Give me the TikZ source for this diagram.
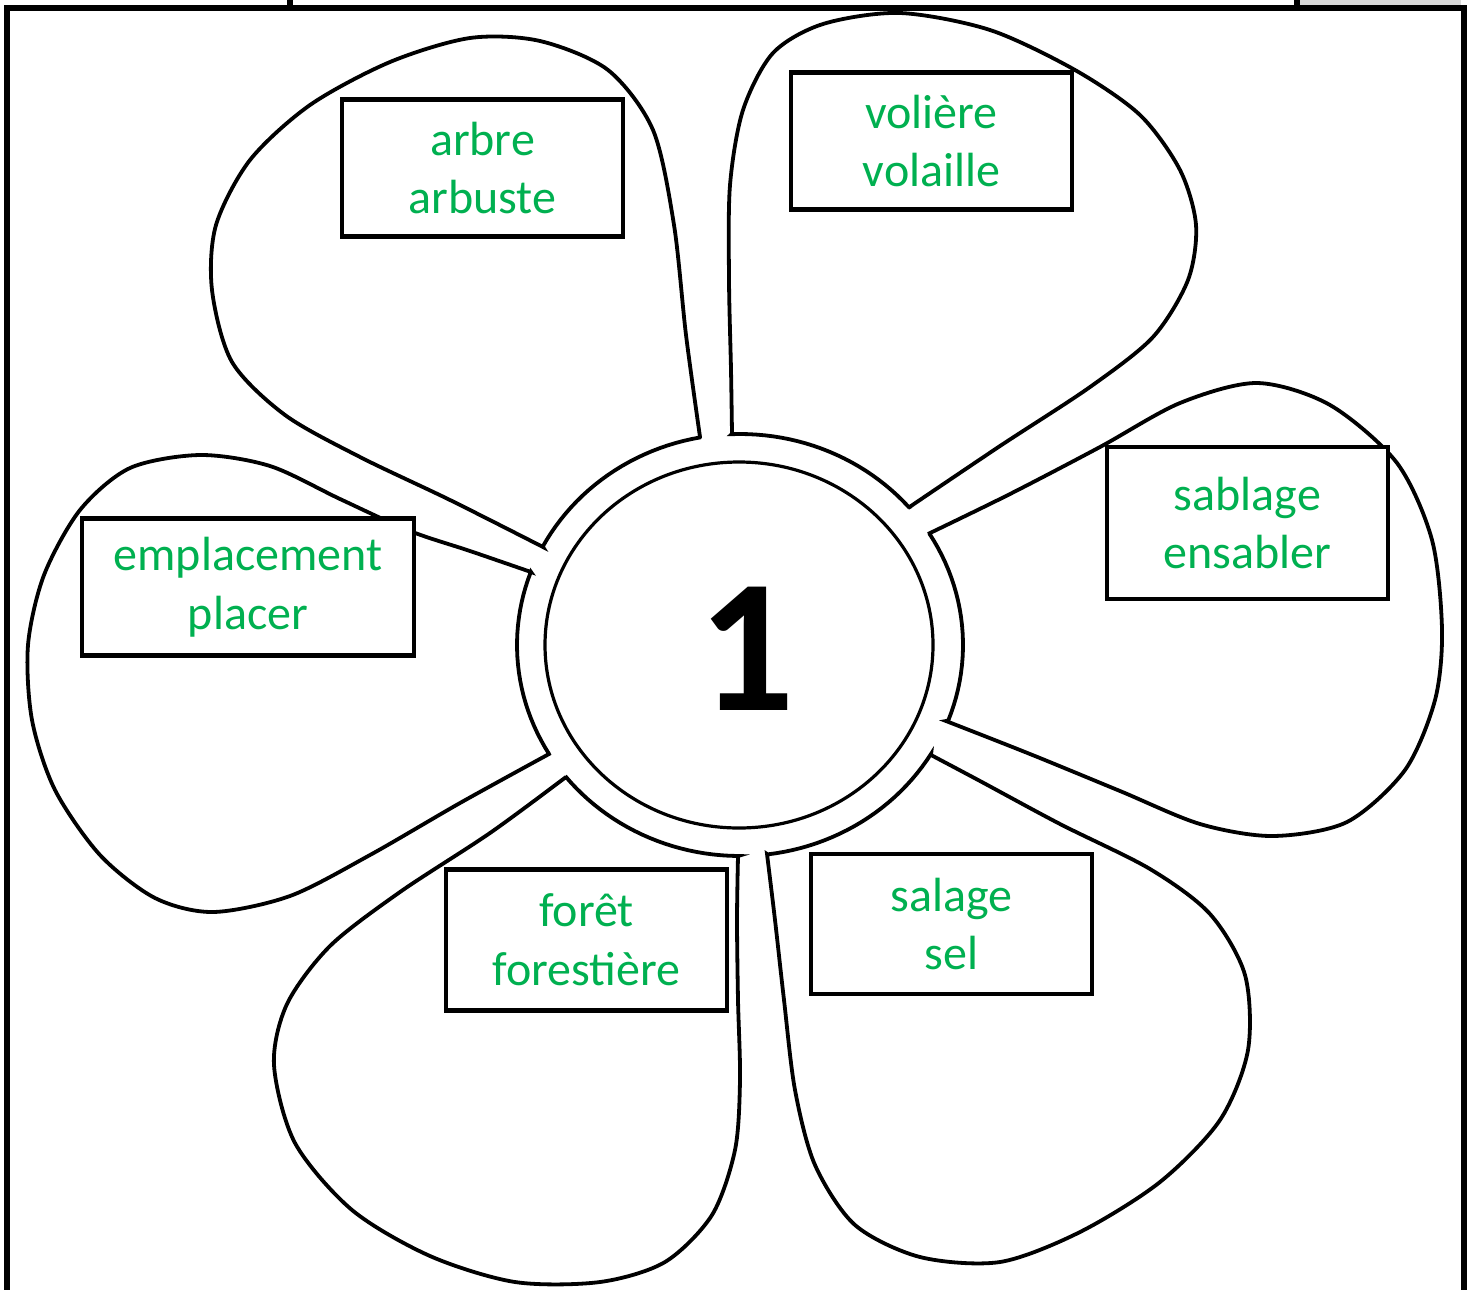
\documentclass[tikz,border=0pt]{standalone}
\usepackage{fontspec}
\setmainfont{Carlito}
\definecolor{lblgreen}{HTML}{00B050}
\definecolor{tabgrey}{HTML}{D9D9D9}
\begin{document}
\begin{tikzpicture}[x=0.5pt,y=-0.5pt,
  petal/.style={line width=1.9pt},
  wordbox/.style={draw, line width=2.2pt, fill=white, text=lblgreen, align=center,
    font=\fontsize{24}{29.3}\selectfont, inner sep=0pt, minimum width=140.5pt, minimum height=68.5pt},
  framerule/.style={line width=3pt}]
\useasboundingbox (0,0) rectangle (1470,1290);
% arbre petal
\draw[petal] plot[domain=207.8:259.6, samples=25, variable=\t] ({740+223*cos(\t)},{645+211*sin(\t)})
  -- plot[smooth] coordinates {(700,437) (686,335) (674,225) (653,130) (608,70) (540,41) (470,38) (390,62) (310,105) (250,160) (216,225) (212,290) (232,362) (285,415) (360,457) (450,500) (543,547)} -- cycle;
% voliere petal
\draw[petal] plot[domain=267.9:319.3, samples=25, variable=\t] ({740+223*cos(\t)},{645+211*sin(\t)})
  -- plot[smooth] coordinates {(908,508) (1000,446) (1090,387) (1153,337) (1188,280) (1196,225) (1180,170) (1140,115) (1075,70) (990,30) (900,13) (823,24) (773,53) (743,110) (730,185) (729,280) (731,370) (732,434)} -- cycle;
% sablage petal
\draw[petal] plot[domain=328.1:381.0, samples=25, variable=\t] ({740+223*cos(\t)},{645+211*sin(\t)})
  -- plot[smooth] coordinates {(946,721) (1030,754) (1120,791) (1200,824) (1273,836) (1347,822) (1405,770) (1435,700) (1442,630) (1432,540) (1397,463) (1330,405) (1257,383) (1180,403) (1100,447) (1010,494) (928,534)} -- cycle;
% salage petal
\draw[petal] plot[domain=31:82.9, samples=25, variable=\t] ({740+223*cos(\t)},{645+211*sin(\t)})
  -- plot[smooth] coordinates {(767,854) (775,920) (784,1000) (795,1090) (815,1165) (855,1225) (920,1257) (1000,1262) (1080,1232) (1160,1182) (1220,1120) (1248,1050) (1245,975) (1210,914) (1150,869) (1060,824) (980,781) (931,755)} -- cycle;
% foret petal
\draw[petal] plot[domain=90.5:141.6, samples=25, variable=\t] ({740+223*cos(\t)},{645+211*sin(\t)})
  -- plot[smooth] coordinates {(566,777) (490,833) (400,892) (330,946) (287,1004) (274,1065) (295,1143) (352,1210) (430,1256) (515,1282) (600,1282) (665,1262) (712,1215) (735,1150) (740,1080) (738,1000) (737,920) (738,856)} -- cycle;
% emplacement petal
\draw[petal] plot[domain=149:200.3, samples=25, variable=\t] ({740+223*cos(\t)},{645+211*sin(\t)})
  -- plot[smooth] coordinates {(531,572) (470,551) (410,531) (340,499) (270,466) (200,455) (130,468) (80,510) (44,575) (28,645) (32,720) (55,790) (100,855) (155,898) (213,912) (290,896) (370,855) (460,803) (549,754)} -- cycle;
% centre
\draw[petal, line width=1.6pt] (739,645) ellipse [x radius=194, y radius=183];
\node[font=\fontsize{95}{95}\bfseries\selectfont, anchor=base, inner sep=0pt] (num) at (747,710) {1};
% word boxes
\node[wordbox] (arbre) at (482.5,168) {arbre\\arbuste};
\node[wordbox] (voliere) at (931.5,141) {volière\\volaille};
\node[wordbox, minimum height=76pt] (sablage) at (1247.5,523) {sablage\\ensabler};
\node[wordbox, minimum width=166pt] (emplacement) at (248,587) {emplacement\\placer};
\node[wordbox, minimum height=70.5pt] (foret) at (586.5,940) {forêt\\forestière};
\node[wordbox, minimum height=70pt] (salage) at (951.5,924) {salage\\sel};
% frame
\fill[tabgrey] (1300,0) rectangle (1461,5);
\draw[framerule] (4,8) -- (1467,8);
\draw[framerule] (7,5) -- (7,1290);
\draw[framerule] (1464,5) -- (1464,1290);
\draw[framerule] (290,0) -- (290,8);
\draw[framerule] (1297,0) -- (1297,8);
\end{tikzpicture}
\end{document}
